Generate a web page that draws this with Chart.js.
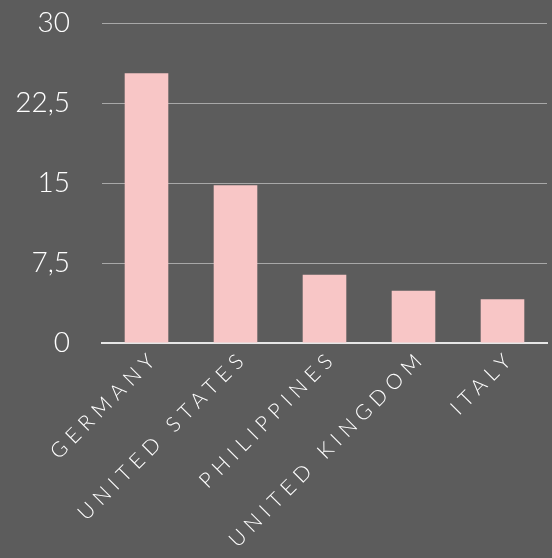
<!DOCTYPE html>
<html><head><meta charset="utf-8">
<script src="https://cdn.jsdelivr.net/npm/chart.js@4"></script>
<style>html,body{margin:0;padding:0;background:#5c5c5c;}#wrap{width:552px;height:558px;}</style>
</head><body><div id="wrap"><canvas id="c" width="552" height="558"></canvas></div>
<script>
const categories = ["GERMANY", "UNITED STATES", "PHILIPPINES", "UNITED KINGDOM", "ITALY"];
const values = [25.3, 14.8, 6.4, 4.9, 4.1];
const yTicks = [0, 7.5, 15, 22.5, 30];

Chart.defaults.font.family = 'Lato, "Open Sans", sans-serif';
new Chart(document.getElementById('c'), {
  type: 'bar',
  data: { labels: categories, datasets: [{ data: values, backgroundColor: '#f8c6c6', barPercentage: 0.49, categoryPercentage: 1 }] },
  options: {
    responsive: false, animation: false,
    layout: { padding: { top: 23, right: 5, left: 0, bottom: 0 } },
    plugins: { legend: { display: false }, tooltip: { enabled: false } },
    scales: {
      x: {
        grid: { display: false, drawTicks: false },
        border: { display: true, color: '#e6e6e6', width: 2 },
        ticks: { z: 1, color: '#ffffff', font: { size: 21, weight: 300 }, minRotation: 45, maxRotation: 45, padding: 2, labelOffset: 9, autoSkip: false },
        afterFit(s){ s.height = 558 - 343; s.paddingLeft = 0; s.paddingRight = 0; }
      },
      y: {
        min: 0, max: 30,
        afterBuildTicks(s){ s.ticks = yTicks.map(v => ({ value: v })); },
        grid: { color: '#a8a8a8', lineWidth: 1, drawTicks: false },
        border: { display: false },
        ticks: { color: '#ffffff', font: { size: 28, weight: 300 }, padding: 32,
          callback: v => String(v).replace('.', ',') },
        afterFit(s){ s.width = 102; s.paddingTop = 0; s.paddingBottom = 0; }
      }
    }
  },
  plugins: [{
    id: 'ls',
    beforeDraw(chart){ chart.ctx.letterSpacing = '0px'; },
    afterDatasetsDraw(chart){ chart.ctx.letterSpacing = '6px'; },
    afterDraw(chart){ chart.ctx.letterSpacing = '0px'; }
  }]
});
</script></body></html>
